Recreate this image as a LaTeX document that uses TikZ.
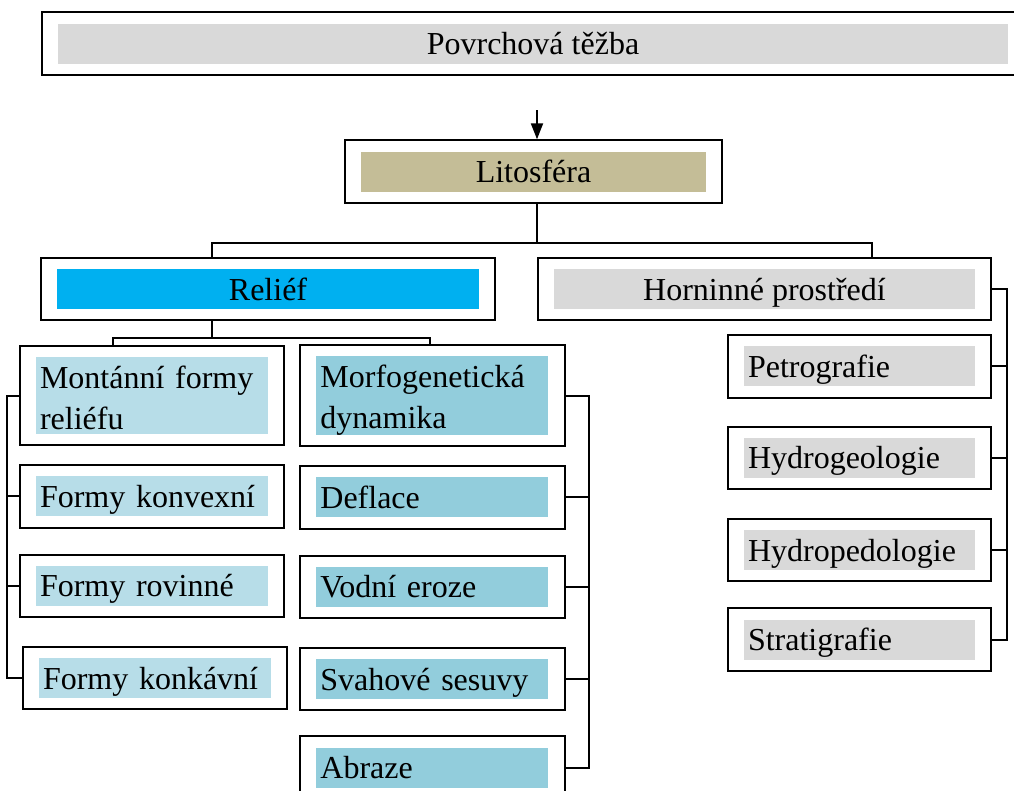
\documentclass[tikz,border=0pt]{standalone}
\usepackage{fontspec}
\setmainfont{Liberation Serif}
\usepackage{xcolor}
\usepackage{tikz}
\usetikzlibrary{arrows.meta,positioning,fit}
\definecolor{boxgray}{HTML}{D9D9D9}
\definecolor{boxtan}{HTML}{C4BD97}
\definecolor{boxcyan}{HTML}{00B0F0}
\definecolor{boxlight}{HTML}{B7DDE8}
\definecolor{boxmid}{HTML}{92CDDC}
\newcommand{\tallstrut}{\rule[-5pt]{0pt}{36pt}}

\begin{document}
\begin{tikzpicture}[
  x=1pt, y=1pt, >=Triangle,
  label/.style={inner xsep=4pt, inner ysep=0pt, font=\fontsize{32}{41}\selectfont},
  hdr/.style={label, minimum height=40pt, text height=31pt, text depth=9pt, align=center},
  item/.style={label, minimum height=40pt, text height=31pt, text depth=9pt, text width=224pt, align=left},
  itemtwo/.style={label, minimum height=77pt, text width=224pt, align=left},
  frame/.style={draw=black, line width=2pt, inner xsep=16pt, inner ysep=11pt},
  arrow/.style={line width=2pt, black, arrows={-Triangle[length=16pt, width=12pt]}},
  conn/.style={line width=2pt, black}
]
\clip (0,0) rectangle (1014,-790);

\node[hdr, fill=boxgray, minimum width=950pt] (top) at (533,-43.5) {Povrchová těžba};
\node[hdr, fill=boxtan, minimum width=345pt] (lito) at (533.5,-171.5) {Litosféra};
\node[hdr, fill=boxcyan, minimum width=422pt] (relief) at (268,-289) {Reliéf};
\node[hdr, fill=boxgray, minimum width=421pt] (horn) at (764.5,-289) {Horninné prostředí};

\node[itemtwo, fill=boxlight] (mont) at (152,-395.5) {\tallstrut Montánní formy\\\tallstrut reliéfu};
\node[item, fill=boxlight, below=42pt of mont] (konv) {Formy konvexní};
\node[item, fill=boxlight, below=49pt of konv] (rovin) {Formy rovinné};
\node[item, fill=boxlight, below=52pt of rovin, xshift=3pt] (konk) {Formy konkávní};

\node[itemtwo, fill=boxmid, right=48pt of mont] (morfo) {\tallstrut Morfogenetická\\\tallstrut dynamika};
\node[item, fill=boxmid, below=42pt of morfo] (deflace) {Deflace};
\node[item, fill=boxmid, below=49pt of deflace] (vodni) {Vodní eroze};
\node[item, fill=boxmid, below=52pt of vodni] (svahove) {Svahové sesuvy};
\node[item, fill=boxmid, below=48pt of svahove] (abraze) {Abraze};

\node[item, fill=boxgray, text width=223pt, below left=37pt and 0pt of horn.south east] (petro) {Petrografie};
\node[item, fill=boxgray, text width=223pt, below=51pt of petro] (hydrogeo) {Hydrogeologie};
\node[item, fill=boxgray, text width=223pt, below=52pt of hydrogeo] (hydroped) {Hydropedologie};
\node[item, fill=boxgray, text width=223pt, below=49pt of hydroped] (strati) {Stratigrafie};

\foreach \n in {top,lito,relief,horn,mont,konv,rovin,konk,morfo,deflace,vodni,svahove,abraze,petro,hydrogeo,hydroped,strati}
  \node[frame, fit=(\n)] (\n F) {};

\coordinate (arrowtop) at (537,-110);
\draw[arrow] (arrowtop) -- (arrowtop |- litoF.north);

\draw[conn] (litoF.south -| arrowtop) -- ++(0,-39) coordinate (split1);
\draw[conn] ([xshift=-56pt]reliefF.north) |- (split1) -| ([xshift=107.5pt]hornF.north);

\draw[conn] ([xshift=-56pt]reliefF.south) -- ++(0,-17) coordinate (split2);
\draw[conn] ([xshift=-39pt]montF.north) |- (split2) -| ([xshift=-2pt]morfoF.north);

\draw[conn] (montF.west) -- ++(-12,0) coordinate (lb) |- (konkF.west);
\foreach \n in {konv,rovin}
  \draw[conn] (\n F.west) -- (\n F.west -| lb);

\draw[conn] (morfoF.east) -- ++(23,0) coordinate (rb) |- (abrazeF.east);
\foreach \n in {deflace,vodni,svahove}
  \draw[conn] (\n F.east) -- (\n F.east -| rb);

\draw[conn] (hornF.east) -- ++(15,0) coordinate (hb) |- (stratiF.east);
\foreach \n in {petro,hydrogeo,hydroped}
  \draw[conn] (\n F.east) -- (\n F.east -| hb);
\end{tikzpicture}
\end{document}
